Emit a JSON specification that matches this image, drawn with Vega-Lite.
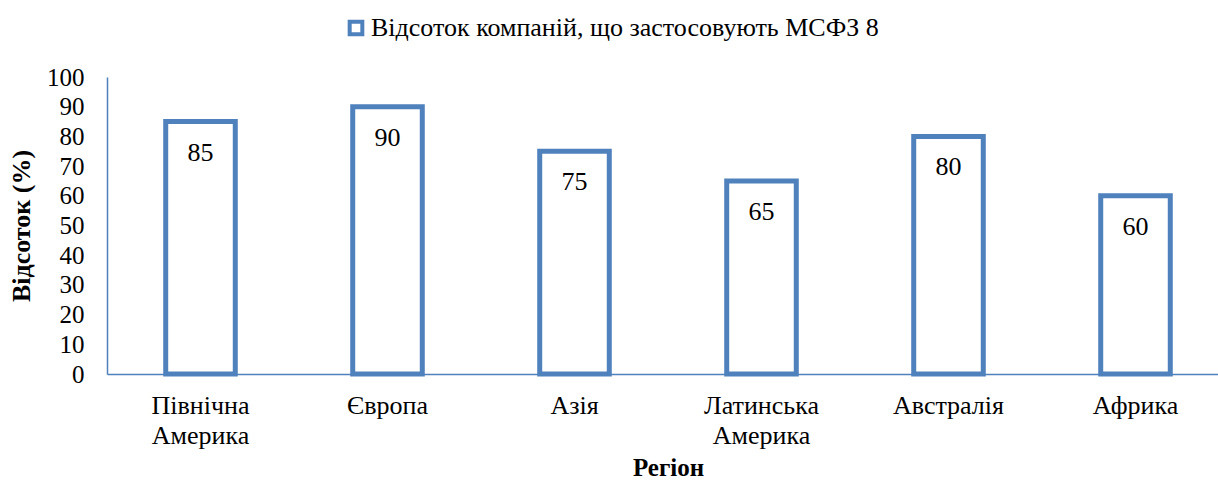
{
  "$schema": "https://vega.github.io/schema/vega-lite/v6.json",
  "autosize": {"type": "none"},
  "width": 1109,
  "height": 297,
  "padding": {"left": 107, "top": 77, "right": 2, "bottom": 110},
  "background": "white",
  "config": {
    "view": {"stroke": null},
    "font": "Liberation Serif",
    "axis": {"labelFont": "Liberation Serif", "titleFont": "Liberation Serif", "labelColor": "black", "titleColor": "black"},
    "legend": {"labelFont": "Liberation Serif"}
  },
  "data": {
    "values": [
      {"region": "Північна Америка", "value": 85, "series": "Відсоток компаній, що застосовують МСФЗ 8"},
      {"region": "Європа", "value": 90, "series": "Відсоток компаній, що застосовують МСФЗ 8"},
      {"region": "Азія", "value": 75, "series": "Відсоток компаній, що застосовують МСФЗ 8"},
      {"region": "Латинська Америка", "value": 65, "series": "Відсоток компаній, що застосовують МСФЗ 8"},
      {"region": "Австралія", "value": 80, "series": "Відсоток компаній, що застосовують МСФЗ 8"},
      {"region": "Африка", "value": 60, "series": "Відсоток компаній, що застосовують МСФЗ 8"}
    ]
  },
  "encoding": {
    "x": {
      "field": "region",
      "type": "nominal",
      "sort": null,
      "scale": {"range": [0, 1122], "paddingInner": 0.628, "paddingOuter": 0.314},
      "axis": {
        "title": "Регіон",
        "titleFontSize": 25,
        "titleFontWeight": "bold",
        "titlePadding": 7,
        "labelAngle": 0,
        "labelFontSize": 26,
        "labelLineHeight": 30,
        "labelPadding": 18,
        "labelExpr": "split(datum.label, ' ')",
        "ticks": false,
        "domainColor": "#4F81BD",
        "domainWidth": 1.5
      }
    },
    "y": {
      "field": "value",
      "type": "quantitative",
      "scale": {"domain": [0, 100]},
      "axis": {
        "title": "Відсоток (%)",
        "titleFontSize": 26,
        "titleFontWeight": "bold",
        "titlePadding": 12,
        "values": [0, 10, 20, 30, 40, 50, 60, 70, 80, 90, 100],
        "labelFontSize": 25,
        "labelPadding": 23,
        "ticks": false,
        "grid": false,
        "domainColor": "#4F81BD",
        "domainWidth": 1.5
      }
    }
  },
  "layer": [
    {
      "mark": {"type": "bar", "fill": "white", "strokeWidth": 5},
      "encoding": {
        "stroke": {
          "field": "series",
          "type": "nominal",
          "scale": {"range": ["#4F81BD"]},
          "legend": {
            "title": null,
            "orient": "none",
            "legendX": 236,
            "legendY": -62,
            "symbolType": "square",
            "symbolSize": 160,
            "symbolFillColor": "white",
            "symbolStrokeWidth": 4,
            "labelFontSize": 26,
            "labelColor": "black",
            "labelOffset": 2,
            "labelLimit": 800
          }
        }
      }
    },
    {
      "mark": {"type": "text", "fontSize": 26, "color": "black", "baseline": "middle", "dy": 31},
      "encoding": {"text": {"field": "value", "type": "quantitative"}}
    }
  ]
}
